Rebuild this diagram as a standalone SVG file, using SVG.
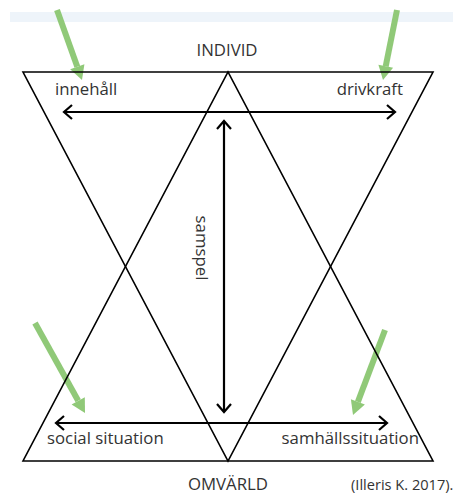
<svg xmlns="http://www.w3.org/2000/svg" width="453" height="495" viewBox="0 0 453 495">
<defs>
<style>
.tri{fill:none;stroke:#000;stroke-width:1.6;stroke-linejoin:miter}
.arr{fill:none;stroke:#000;stroke-width:2.2}
.green{stroke:#90c978;stroke-width:6;fill:none}
.gh{fill:#90c978}
.t{font-family:"Open Sans","Liberation Sans",Arial,sans-serif;font-size:16.8px;fill:#333}
</style>
</defs>
<rect x="0" y="0" width="453" height="495" fill="#fff"/>
<rect x="10" y="12" width="443" height="10" fill="#eef4fa"/>
<g id="green-arrows">
<path class="green" d="M57,10 L77.3,66.8"/>
<polygon class="gh" points="82,80 70.2,69.3 84.4,64.3"/>
<path class="green" d="M397,10 L385.7,66.3"/>
<polygon class="gh" points="383,80 378.4,64.8 393.1,67.8"/>
<path class="green" d="M35,323 L78.2,400.8"/>
<polygon class="gh" points="85,413 71.6,404.4 84.8,397.2"/>
<path class="green" d="M385,330 L357.9,401.9"/>
<polygon class="gh" points="353,415 350.9,399.3 364.9,404.5"/>
</g>
<g id="triangles">
<path class="tri" d="M23,72 L433,72 L228,461 Z"/>
<path class="tri" d="M23,461 L433,461 L228,72 Z"/>
</g>
<g id="connectors">
<path class="arr" d="M64,112 H395"/>
<path class="arr" d="M72,105 L64,112 L72,119 M387,105 L395,112 L387,119"/>
<path class="arr" d="M56,423 H387"/>
<path class="arr" d="M64,416 L56,423 L64,430 M379,416 L387,423 L379,430"/>
<path class="arr" d="M224,121 V412"/>
<path class="arr" d="M217,129 L224,121 L231,129 M217,404 L224,412 L231,404"/>
</g>
<g id="labels">
<text class="t" x="227" y="56" text-anchor="middle">INDIVID</text>
<text class="t" x="55" y="95">innehåll</text>
<text class="t" x="403" y="95" text-anchor="end">drivkraft</text>
<text class="t" x="47" y="444">social situation</text>
<text class="t" x="419" y="444" text-anchor="end">samhällssituation</text>
<text class="t" x="228" y="490" text-anchor="middle">OMVÄRLD</text>
<text class="t" x="351" y="490" style="font-size:14.6px">(Illeris K. 2017).</text>
<text class="t" transform="translate(196,248) rotate(90)" text-anchor="middle">samspel</text>
</g>
</svg>
